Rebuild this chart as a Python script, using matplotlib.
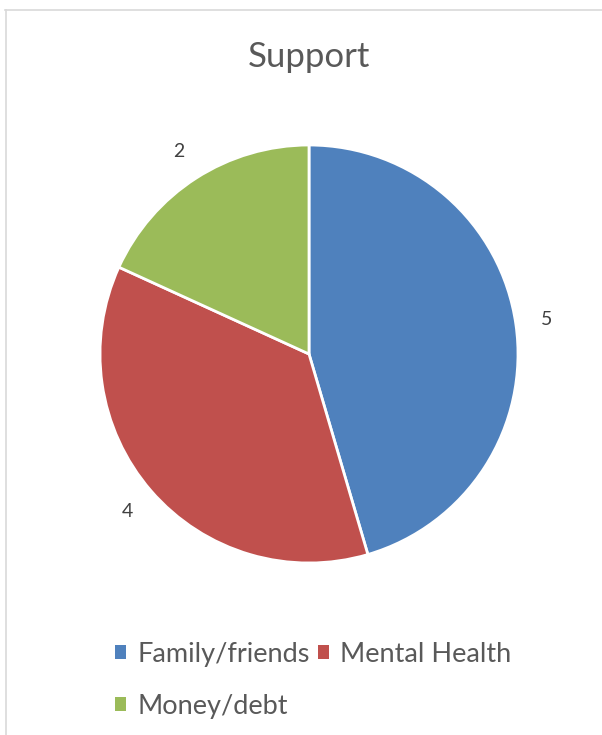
import matplotlib
matplotlib.use("Agg")
import matplotlib.pyplot as plt
from matplotlib.patches import Patch
from matplotlib.lines import Line2D

# data
categories = ["Family/friends", "Mental Health", "Money/debt"]
values = [5, 4, 2]
colors = ["#4F81BD", "#C0504D", "#9BBB59"]

plt.rcParams["font.family"] = ["Lato", "DejaVu Sans"]

W, H = 602, 735
fig = plt.figure(figsize=(W / 100, H / 100), dpi=100)

# chart area border (top and left edges only)
fig.add_artist(Line2D([5 / W, 1], [1 - 9.5 / H, 1 - 9.5 / H], color="#D9D9D9", lw=1.2))
fig.add_artist(Line2D([6 / W, 6 / W], [0, 1 - 9.5 / H], color="#D9D9D9", lw=1.2))

# pie axes, centre ~ (309, 354) px, radius ~ 208 px
cx, cy, r = 309, 354, 209
ax = fig.add_axes([(cx - r) / W, 1 - (cy + r) / H, 2 * r / W, 2 * r / H])
wedges, texts = ax.pie(
    values,
    labels=[str(v) for v in values],
    colors=colors,
    startangle=90,
    counterclock=False,
    labeldistance=1.15,
    wedgeprops=dict(edgecolor="white", linewidth=2),
    textprops=dict(color="#404040", fontsize=14),
)
for t in texts:
    t.set_ha("center")
    t.set_va("center")
ax.set_xlim(-1, 1)
ax.set_ylim(-1, 1)
ax.axis("off")

fig.text(cx / W, 1 - 57 / H, "Support", ha="center", va="center",
         fontsize=25, color="#595959")

# legend: reorder so column-wise fill reads row-wise
handles = [Patch(facecolor=c, edgecolor="none") for c in colors]
order = [0, 2, 1]
fig.legend(
    [handles[i] for i in order],
    [categories[i] for i in order],
    ncol=2,
    loc="upper left",
    bbox_to_anchor=(115 / W, 1 - 642 / H),
    frameon=False,
    fontsize=19.5,
    labelcolor="#595959",
    handlelength=0.42,
    handleheight=0.42,
    handletextpad=0.4,
    columnspacing=0.3,
    labelspacing=1.0,
    borderpad=0,
    borderaxespad=0,
)

fig.savefig("out.png", dpi=100)
